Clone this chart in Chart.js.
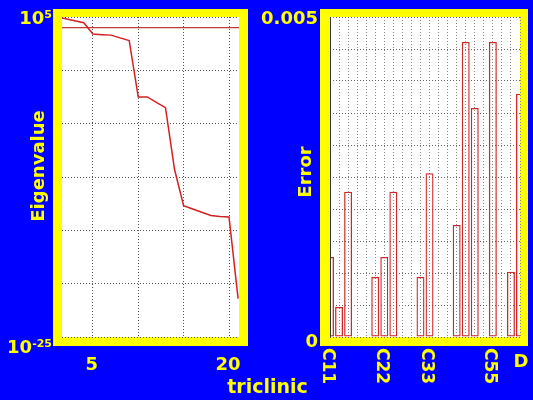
<!DOCTYPE html>
<html>
<head>
<meta charset="utf-8">
<script src="https://cdn.jsdelivr.net/npm/chart.js@4.4.0/dist/chart.umd.min.js"></script>
<style>
html, body { margin: 0; padding: 0; background: #0000ff; }
canvas { position: absolute; left: 0; top: 0; }
</style>
</head>
<body>
<canvas id="eigChart" width="533" height="400"></canvas>
<canvas id="errChart" width="533" height="400"></canvas>
<script>
// left panel: eigenvalues (log scale)
const eigIndex = [1, 2, 3, 4, 5, 6, 7, 8, 9, 10, 11, 12, 13, 14, 15, 16, 17, 18, 19, 20, 21]
const eigValues = [1.0e5, 6.8e4, 4.4e4, 2.9e4, 2.5e3, 2.2e3, 2.0e3, 1.1e3, 6.3e2, 3.2e-3, 3.2e-3,
                   1.0e-3, 3.2e-4, 5.0e-10, 2.0e-13, 1.0e-13, 5.0e-14, 2.5e-14, 2.0e-14, 1.8e-14, 4.0e-22]
const thresholdX = [1, 22]
const thresholdY = [1e4, 1e4]
const eigXTicks = [5, 10, 15, 20]
const eigXLabels = [5, 20]
const eigYTicks = [1e-25, 1e-20, 1e-15, 1e-10, 1e-5, 1, 1e5]

// right panel: errors per constant
const constants = ['C11', 'C12', 'C13', 'C14', 'C15', 'C16', 'C22', 'C23', 'C24', 'C25', 'C26',
                   'C33', 'C34', 'C35', 'C36', 'C44', 'C45', 'C46', 'C55', 'C56', 'C66', 'D']
const errors = [0.00125, 0.00047, 0.00227, 0, 0, 0.00094, 0.00125, 0.00227, 0, 0, 0.00094,
                0.00256, 0, 0, 0.00175, 0.00461, 0.00358, 0, 0.00461, 0, 0.00102, 0.0038]
const errShownLabels = ['C11', 'C22', 'C33', 'C55']
const errYTicks = [0, 0.0005, 0.001, 0.0015, 0.002, 0.0025, 0.003, 0.0035, 0.004, 0.0045, 0.005]

const yellow = '#ffff00'
const fontFamily = '"DejaVu Sans", sans-serif'

function label(ctx, str, x, y, size, align, rot) {
    ctx.save()
    ctx.translate(x, y)
    if (rot) ctx.rotate(rot)
    ctx.font = `bold ${size}px ${fontFamily}`
    ctx.textAlign = align || 'center'
    ctx.textBaseline = 'alphabetic'
    ctx.fillStyle = yellow
    ctx.fillText(str, 0, 0)
    ctx.restore()
}

// "10" with a raised exponent, right edge at xRight
function power(ctx, base, exp, xRight, yBase) {
    ctx.save()
    ctx.font = `bold 11px ${fontFamily}`
    const w = ctx.measureText(exp).width
    ctx.restore()
    label(ctx, exp, xRight, yBase - 6, 11, 'right')
    label(ctx, base, xRight - w, yBase, 18, 'right')
}

const frame = {
    id: 'frame',
    beforeDraw(chart, args, opts) {
        const {ctx, chartArea: {left, top, right, bottom}} = chart
        ctx.save()
        ctx.fillStyle = yellow
        ctx.fillRect(left - opts.l, top - 8, right - left + opts.l + opts.r, bottom - top + 17)
        ctx.fillStyle = '#ffffff'
        ctx.fillRect(left, top, right - left, bottom - top)
        ctx.restore()
    }
}

const eigText = {
    id: 'eigText',
    afterDraw(chart) {
        const {ctx, scales: {x, y}, chartArea} = chart
        eigXLabels.forEach(v => label(ctx, String(v), x.getPixelForValue(v) - 1, chartArea.bottom + 33, 18))
        power(ctx, '10', '5', chartArea.left - 10, y.getPixelForValue(1e5) + 7)
        power(ctx, '10', '-25', chartArea.left - 10, y.getPixelForValue(1e-25) + 16)
        label(ctx, 'Eigenvalue', 44, 166, 18, 'center', -Math.PI / 2)
        label(ctx, 'triclinic', chart.width / 2 + 1, 393, 19)
    }
}

const errText = {
    id: 'errText',
    afterDraw(chart) {
        const {ctx, scales: {x, y}, chartArea} = chart
        ctx.save()
        ctx.strokeStyle = '#333'
        ctx.lineWidth = 1
        ctx.beginPath()
        ctx.moveTo(chartArea.left + 0.5, chartArea.top)
        ctx.lineTo(chartArea.left + 0.5, chartArea.bottom)
        ctx.stroke()
        ctx.restore()
        label(ctx, '0.005', chartArea.left - 12, y.getPixelForValue(0.005) + 7, 18, 'right')
        label(ctx, '0', chartArea.left - 12, y.getPixelForValue(0) + 10, 18, 'right')
        label(ctx, 'Error', 311, 172, 18, 'center', -Math.PI / 2)
        errShownLabels.forEach(lab => {
            const px = x.getPixelForValue(constants.indexOf(lab))
            ctx.save()
            ctx.translate(px - 3, chartArea.bottom + 11)
            ctx.rotate(Math.PI / 2)
            ctx.font = `bold 17px ${fontFamily}`
            ctx.textAlign = 'left'
            ctx.textBaseline = 'middle'
            ctx.fillStyle = yellow
            ctx.fillText(lab, 0, 0)
            ctx.restore()
        })
        label(ctx, 'D', x.getPixelForValue(constants.indexOf('D')) + 1, chartArea.bottom + 30, 18)
    }
}

new Chart(document.getElementById('eigChart'), {
    type: 'line',
    data: {
        datasets: [{
            data: eigIndex.map((v, i) => ({x: v, y: eigValues[i]})),
            borderColor: '#d42020',
            borderWidth: 1.5,
            pointRadius: 0,
            tension: 0
        }, {
            data: thresholdX.map((v, i) => ({x: v, y: thresholdY[i]})),
            borderColor: '#c03a3a',
            borderWidth: 1.3,
            pointRadius: 0
        }]
    },
    options: {
        responsive: false,
        animation: false,
        layout: {padding: {left: 62, top: 17, right: 533 - 239, bottom: 400 - 337}},
        plugins: {legend: {display: false}, tooltip: {enabled: false}, frame: {l: 9, r: 9}},
        scales: {
            x: {
                type: 'linear', min: 1.6, max: 21.1,
                afterBuildTicks: s => { s.ticks = eigXTicks.map(v => ({value: v})) },
                ticks: {display: false},
                grid: {color: '#555', lineWidth: 1, drawTicks: false},
                border: {display: false, dash: [1, 2]}
            },
            y: {
                type: 'logarithmic', min: 1e-25, max: 1e5,
                afterBuildTicks: s => { s.ticks = eigYTicks.map(v => ({value: v})) },
                ticks: {display: false},
                grid: {color: '#555', lineWidth: 1, drawTicks: false},
                border: {display: false, dash: [1, 2]}
            }
        }
    },
    plugins: [frame, eigText]
})

new Chart(document.getElementById('errChart'), {
    type: 'bar',
    data: {
        labels: constants,
        datasets: [{
            data: errors,
            backgroundColor: 'rgba(255,255,255,0)',
            borderColor: '#d02828',
            borderWidth: 1.3,
            borderSkipped: false,
            barPercentage: 0.88,
            categoryPercentage: 1.0,
            clip: 0
        }]
    },
    options: {
        responsive: false,
        animation: false,
        layout: {padding: {left: 330, top: 17, right: 533 - 520, bottom: 400 - 337}},
        plugins: {legend: {display: false}, tooltip: {enabled: false}, frame: {l: 10, r: 8}},
        scales: {
            x: {
                offset: false,
                ticks: {display: false},
                grid: {color: '#888', lineWidth: 1, drawTicks: false, offset: false},
                border: {display: false, dash: [1, 2]}
            },
            y: {
                min: 0, max: 0.005,
                afterBuildTicks: s => { s.ticks = errYTicks.map(v => ({value: v})) },
                ticks: {display: false},
                grid: {color: '#666', lineWidth: 1, drawTicks: false},
                border: {display: false, dash: [1, 2]}
            }
        }
    },
    plugins: [frame, errText]
})
</script>
</body>
</html>
